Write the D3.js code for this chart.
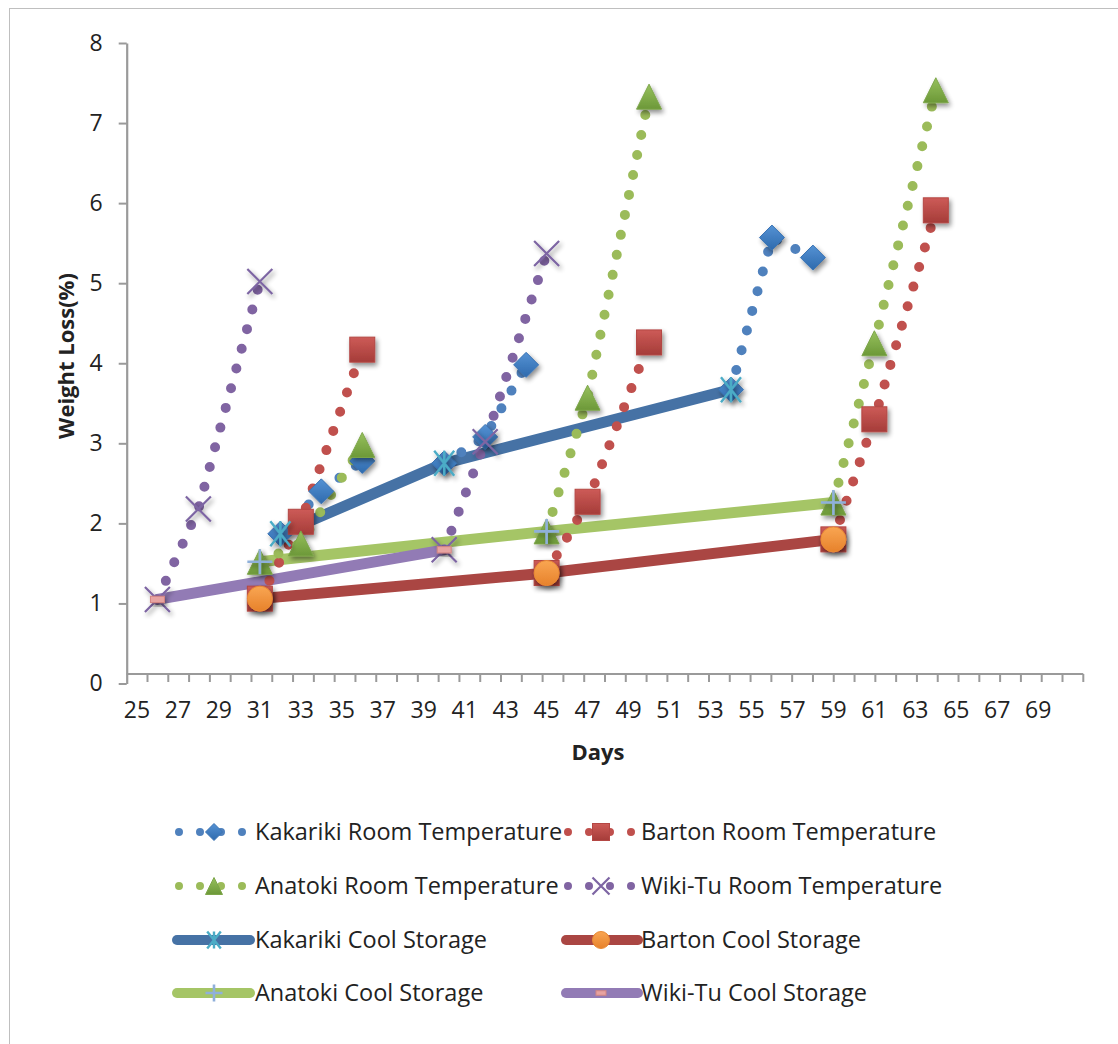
<!DOCTYPE html>
<html>
<head>
<meta charset="utf-8">
<script src="https://cdn.jsdelivr.net/npm/d3@7"></script>
<style>
  body { margin: 0; background: #fff; }
  svg { display: block; }
</style>
</head>
<body>
<svg id="chart" width="1118" height="1044"></svg>
<script>
// Weight loss (%) against storage day.
// Room-temperature runs are split into segments; each segment begins
// where the matching cool-storage period ends.
const kakarikiRoom = [
  [[32, 1.87], [34, 2.40], [36, 2.78]],
  [[40, 2.75], [42, 3.08], [44, 3.98]],
  [[54, 3.67], [56, 5.57], [58, 5.32]]
];
const bartonRoom = [
  [[31, 1.06], [33, 2.02], [36, 4.17]],
  [[45, 1.38], [47, 2.27], [50, 4.26]],
  [[59, 1.80], [61, 3.30], [64, 5.91]]
];
const anatokiRoom = [
  [[31, 1.52], [33, 1.75], [36, 2.98]],
  [[45, 1.90], [47, 3.57], [50, 7.33]],
  [[59, 2.26], [61, 4.25], [64, 7.41]]
];
const wikiTuRoom = [
  [[26, 1.05], [28, 2.18], [31, 5.02]],
  [[40, 1.67], [42, 3.02], [45, 5.37]]
];
const kakarikiCool = [[32, 1.87], [40, 2.75], [54, 3.67]];
const bartonCool   = [[31, 1.06], [45, 1.38], [59, 1.80]];
const anatokiCool  = [[31, 1.52], [45, 1.90], [59, 2.26]];
const wikiTuCool   = [[26, 1.05], [40, 1.67]];

const yTicks = [0, 1, 2, 3, 4, 5, 6, 7, 8];
const xTickLabels = d3.range(25, 70, 2);   // 25, 27, ... 69
const dayCount = 46;                       // one tick interval per day slot

const FONT = '"Open Sans", "Noto Sans", sans-serif';
const TEXT = '#222';
const AXIS = '#9a9a9a';

const roomSeries = [
  { name: 'Kakariki Room Temperature', data: kakarikiRoom, color: '#4F81BD', marker: 'diamond' },
  { name: 'Barton Room Temperature',   data: bartonRoom,   color: '#C0504D', marker: 'square' },
  { name: 'Anatoki Room Temperature',  data: anatokiRoom,  color: '#9BBB59', marker: 'triangle' },
  { name: 'Wiki-Tu Room Temperature',  data: wikiTuRoom,   color: '#8064A2', marker: 'cross' }
];
const coolSeries = [
  { name: 'Kakariki Cool Storage', data: kakarikiCool, color: '#4672A5', marker: 'star' },
  { name: 'Barton Cool Storage',   data: bartonCool,   color: '#AA4643', marker: 'circle' },
  { name: 'Anatoki Cool Storage',  data: anatokiCool,  color: '#A5C566', marker: 'plus' },
  { name: 'Wiki-Tu Cool Storage',  data: wikiTuCool,   color: '#927BB5', marker: 'dash' }
];

const svg = d3.select('#chart');

// ---- defs: marker gradients and soft shadow ----
const defs = svg.append('defs');
function vGrad(id, top, bottom) {
  const g = defs.append('linearGradient').attr('id', id)
    .attr('x1', 0).attr('y1', 0).attr('x2', 0).attr('y2', 1);
  g.append('stop').attr('offset', '0%').attr('stop-color', top);
  g.append('stop').attr('offset', '100%').attr('stop-color', bottom);
}
vGrad('gDiamond', '#5592D4', '#2E6AAD');
vGrad('gSquare', '#CD5B57', '#A53C39');
vGrad('gTriangle', '#97C15D', '#6C9838');
vGrad('gCircle', '#F9A653', '#E7822B');

const shadow = defs.append('filter').attr('id', 'shadow')
  .attr('x', '-60%').attr('y', '-60%').attr('width', '220%').attr('height', '220%');
shadow.append('feGaussianBlur').attr('in', 'SourceAlpha').attr('stdDeviation', 2.4);
shadow.append('feOffset').attr('dx', 1.5).attr('dy', 3).attr('result', 'off');
shadow.append('feComponentTransfer').call(c =>
  c.append('feFuncA').attr('type', 'linear').attr('slope', 0.45));
const merge = shadow.append('feMerge');
merge.append('feMergeNode');
merge.append('feMergeNode').attr('in', 'SourceGraphic');

// ---- frame ----
svg.append('rect')
  .attr('x', 9.5).attr('y', 8.5).attr('width', 1200).attr('height', 1100)
  .attr('fill', '#fff').attr('stroke', '#BFBFBF').attr('stroke-width', 1);

// ---- scales ----
const x = d3.scaleLinear().domain([24.5, 71.2]).range([126.7, 1083.3]);
const y = d3.scaleLinear().domain([0, 8]).range([683.5, 43]);
const slot = d3.scaleLinear().domain([0, dayCount]).range(x.range());
const baseY = y(0) - 9.5;   // horizontal axis line sits just above the zero tick

// ---- y axis ----
const yAxis = svg.append('g')
  .attr('transform', `translate(${x.range()[0]},0)`)
  .call(d3.axisLeft(y).tickValues(yTicks).tickSize(8).tickSizeOuter(0).tickPadding(16));
yAxis.select('.domain').attr('stroke', AXIS).attr('stroke-width', 2.2);
yAxis.selectAll('.tick line').attr('stroke', AXIS).attr('stroke-width', 2);
yAxis.selectAll('.tick text')
  .attr('font-family', FONT).attr('font-size', 23).attr('fill', TEXT);

// ---- x axis ----
const xAxis = svg.append('g');
xAxis.append('line')
  .attr('x1', x.range()[0]).attr('x2', x.range()[1])
  .attr('y1', baseY).attr('y2', baseY)
  .attr('stroke', AXIS).attr('stroke-width', 2.2);
xAxis.selectAll('line.tk')
  .data(d3.range(1, dayCount + 1))
  .join('line').attr('class', 'tk')
  .attr('x1', d => slot(d)).attr('x2', d => slot(d))
  .attr('y1', baseY).attr('y2', baseY + 8)
  .attr('stroke', AXIS).attr('stroke-width', 2);
xAxis.selectAll('text')
  .data(xTickLabels)
  .join('text')
  .attr('x', d => x(d)).attr('y', 718)
  .attr('text-anchor', 'middle')
  .attr('font-family', FONT).attr('font-size', 23).attr('fill', TEXT)
  .text(d => d);

// ---- axis titles ----
svg.append('text')
  .attr('x', 598).attr('y', 760)
  .attr('text-anchor', 'middle')
  .attr('font-family', FONT).attr('font-size', 22).attr('font-weight', 700).attr('fill', TEXT)
  .text('Days');
svg.append('text')
  .attr('transform', 'translate(74,356) rotate(-90)')
  .attr('text-anchor', 'middle')
  .attr('font-family', FONT).attr('font-size', 22).attr('font-weight', 700).attr('fill', TEXT)
  .text('Weight Loss(%)');

// ---- marker shapes ----
function drawMarker(g, type, s) {
  // s = half-size of the marker
  switch (type) {
    case 'diamond':
      g.append('path').attr('d', `M0,${-s}L${s},0L0,${s}L${-s},0Z`)
        .attr('fill', 'url(#gDiamond)').attr('stroke', '#3A73B3').attr('stroke-width', 1);
      break;
    case 'square':
      g.append('rect').attr('x', -s).attr('y', -s).attr('width', 2 * s).attr('height', 2 * s)
        .attr('fill', 'url(#gSquare)').attr('stroke', '#B44744').attr('stroke-width', 1);
      break;
    case 'triangle':
      g.append('path').attr('d', `M0,${-s}L${s},${s}L${-s},${s}Z`)
        .attr('fill', 'url(#gTriangle)').attr('stroke', '#7DA64A').attr('stroke-width', 1);
      break;
    case 'cross':
      g.append('path').attr('d', `M${-s},${-s}L${s},${s}M${-s},${s}L${s},${-s}`)
        .attr('stroke', '#7D65A3').attr('stroke-width', 2.2).attr('fill', 'none');
      break;
    case 'star':
      g.append('path')
        .attr('d', `M${-s * 0.8},${-s}L${s * 0.8},${s}M${-s * 0.8},${s}L${s * 0.8},${-s}M0,${-s}L0,${s}`)
        .attr('stroke', '#4BACC6').attr('stroke-width', 2.4).attr('fill', 'none');
      break;
    case 'circle':
      g.append('circle').attr('r', s)
        .attr('fill', 'url(#gCircle)').attr('stroke', '#E98B35').attr('stroke-width', 1);
      break;
    case 'plus':
      g.append('path').attr('d', `M${-s},0L${s},0M0,${-s}L0,${s}`)
        .attr('stroke', '#8FB0DA').attr('stroke-width', 2.6).attr('fill', 'none');
      break;
    case 'dash':
      g.append('rect').attr('x', -s).attr('y', -s * 0.45).attr('width', 2 * s).attr('height', s * 0.9)
        .attr('fill', '#E7A3A1').attr('stroke', '#D48582').attr('stroke-width', 1);
      break;
  }
}

const line = d3.line().x(d => x(d[0])).y(d => y(d[1]));
const plot = svg.append('g');

// cool-storage lines (solid, heavy)
coolSeries.forEach(s => {
  plot.append('path').datum(s.data)
    .attr('d', line)
    .attr('fill', 'none').attr('stroke', s.color)
    .attr('stroke-width', 11).attr('stroke-linecap', 'round').attr('stroke-linejoin', 'round');
});

// room-temperature lines (round dots)
roomSeries.forEach(s => {
  plot.selectAll(null).data(s.data).join('path')
    .attr('d', line)
    .attr('fill', 'none').attr('stroke', s.color)
    .attr('stroke-width', 10).attr('stroke-linecap', 'round')
    .attr('stroke-dasharray', '0 20.4');
});

// markers: room series, then cool series on top
roomSeries.forEach(s => {
  plot.selectAll(null).data(s.data.flat()).join('g')
    .attr('transform', d => `translate(${x(d[0])},${y(d[1])})`)
    .attr('filter', 'url(#shadow)')
    .each(function () { drawMarker(d3.select(this), s.marker, 12.5); });
});
coolSeries.forEach(s => {
  const size = s.marker === 'dash' ? 7 : 12.5;
  plot.selectAll(null).data(s.data).join('g')
    .attr('transform', d => `translate(${x(d[0])},${y(d[1])})`)
    .attr('filter', 'url(#shadow)')
    .each(function () { drawMarker(d3.select(this), s.marker, size); });
});

// ---- legend ----
const legendRows = [832, 886, 940, 993];
const legendCols = [{ x0: 179, x1: 250, mid: 214, tx: 255 }, { x0: 568, x1: 638, mid: 601, tx: 641 }];
const legendItems = [...roomSeries.map(s => ({ ...s, kind: 'room' })),
                     ...coolSeries.map(s => ({ ...s, kind: 'cool' }))];
const legend = svg.append('g');
legendItems.forEach((s, i) => {
  const col = legendCols[i % 2];
  const ry = legendRows[Math.floor(i / 2)];
  const g = legend.append('g');
  if (s.kind === 'room') {
    g.append('line').attr('x1', col.x0).attr('x2', col.x1).attr('y1', ry).attr('y2', ry)
      .attr('stroke', s.color).attr('stroke-width', 8).attr('stroke-linecap', 'round')
      .attr('stroke-dasharray', '0 21');
  } else {
    g.append('line').attr('x1', col.x0 - 2).attr('x2', col.x1).attr('y1', ry).attr('y2', ry)
      .attr('stroke', s.color).attr('stroke-width', 10).attr('stroke-linecap', 'round');
  }
  const m = g.append('g').attr('transform', `translate(${col.mid},${ry})`);
  drawMarker(m, s.marker, s.marker === 'dash' ? 5 : 8.5);
  g.append('text')
    .attr('x', col.tx).attr('y', ry).attr('dy', '0.36em')
    .attr('font-family', FONT).attr('font-size', 23.5).attr('fill', TEXT)
    .text(s.name);
});
</script>
</body>
</html>
